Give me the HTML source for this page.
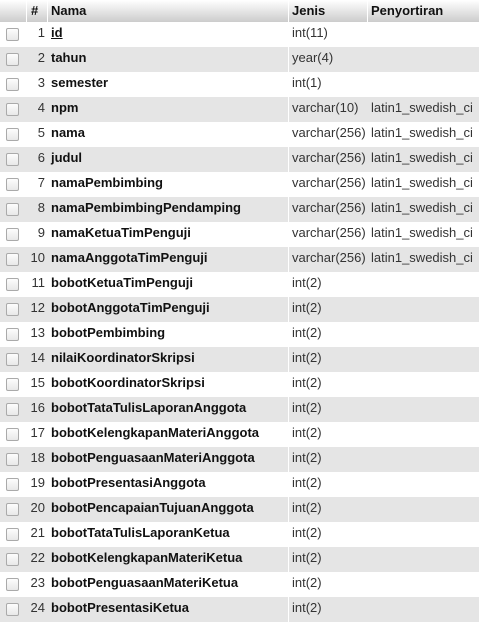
<!DOCTYPE html>
<html><head><style>
body{margin:0;width:479px;height:619px;overflow:hidden;background:#fff;font-family:"Liberation Sans",Arial,sans-serif;font-size:13px;color:#222;position:relative}
.hd{position:absolute;left:0;top:0;width:479px;height:22px;background:linear-gradient(#fff,#ccc);font-weight:bold;color:#111;line-height:22px}
.r{position:absolute;left:0;width:479px;height:25px;line-height:22px}
.g{background:#e5e5e5}
.c{position:absolute;top:0;height:100%;white-space:nowrap}
.sep{position:absolute;top:0;width:1px;height:100%;background:#fff}
.box{position:absolute;left:6px;top:6px;width:11px;height:11px;border:1px solid #aaa;border-radius:2px;background:linear-gradient(#fdfdfd,#e8e8e8)}
.n{right:434px;text-align:right;color:#333}
.nm{left:51px;font-weight:bold;color:#111}
.j{left:292px;color:#333}
.s{left:371px;color:#333}
</style></head><body>
<div class="hd"><span class="c" style="left:31px">#</span><span class="c" style="left:51px">Nama</span><span class="c" style="left:292px">Jenis</span><span class="c" style="left:371px">Penyortiran</span>
<div class="sep" style="left:26px"></div><div class="sep" style="left:47px"></div><div class="sep" style="left:288px"></div><div class="sep" style="left:367px"></div></div>
<div id="rows"></div>
<div class="r" style="top:22px"><span class="box"></span><span class="c n">1</span><span class="c nm"><u>id</u></span><span class="c j">int(11)</span></div>
<div class="r g" style="top:47px"><span class="box"></span><span class="c n">2</span><span class="c nm">tahun</span><div class="sep" style="left:288px"></div><span class="c j">year(4)</span></div>
<div class="r" style="top:72px"><span class="box"></span><span class="c n">3</span><span class="c nm">semester</span><span class="c j">int(1)</span></div>
<div class="r g" style="top:97px"><span class="box"></span><span class="c n">4</span><span class="c nm">npm</span><div class="sep" style="left:288px"></div><span class="c j">varchar(10)</span><span class="c s">latin1_swedish_ci</span></div>
<div class="r" style="top:122px"><span class="box"></span><span class="c n">5</span><span class="c nm">nama</span><span class="c j">varchar(256)</span><span class="c s">latin1_swedish_ci</span></div>
<div class="r g" style="top:147px"><span class="box"></span><span class="c n">6</span><span class="c nm">judul</span><div class="sep" style="left:288px"></div><span class="c j">varchar(256)</span><span class="c s">latin1_swedish_ci</span></div>
<div class="r" style="top:172px"><span class="box"></span><span class="c n">7</span><span class="c nm">namaPembimbing</span><span class="c j">varchar(256)</span><span class="c s">latin1_swedish_ci</span></div>
<div class="r g" style="top:197px"><span class="box"></span><span class="c n">8</span><span class="c nm">namaPembimbingPendamping</span><div class="sep" style="left:288px"></div><span class="c j">varchar(256)</span><span class="c s">latin1_swedish_ci</span></div>
<div class="r" style="top:222px"><span class="box"></span><span class="c n">9</span><span class="c nm">namaKetuaTimPenguji</span><span class="c j">varchar(256)</span><span class="c s">latin1_swedish_ci</span></div>
<div class="r g" style="top:247px"><span class="box"></span><span class="c n">10</span><span class="c nm">namaAnggotaTimPenguji</span><div class="sep" style="left:288px"></div><span class="c j">varchar(256)</span><span class="c s">latin1_swedish_ci</span></div>
<div class="r" style="top:272px"><span class="box"></span><span class="c n">11</span><span class="c nm">bobotKetuaTimPenguji</span><span class="c j">int(2)</span></div>
<div class="r g" style="top:297px"><span class="box"></span><span class="c n">12</span><span class="c nm">bobotAnggotaTimPenguji</span><div class="sep" style="left:288px"></div><span class="c j">int(2)</span></div>
<div class="r" style="top:322px"><span class="box"></span><span class="c n">13</span><span class="c nm">bobotPembimbing</span><span class="c j">int(2)</span></div>
<div class="r g" style="top:347px"><span class="box"></span><span class="c n">14</span><span class="c nm">nilaiKoordinatorSkripsi</span><div class="sep" style="left:288px"></div><span class="c j">int(2)</span></div>
<div class="r" style="top:372px"><span class="box"></span><span class="c n">15</span><span class="c nm">bobotKoordinatorSkripsi</span><span class="c j">int(2)</span></div>
<div class="r g" style="top:397px"><span class="box"></span><span class="c n">16</span><span class="c nm">bobotTataTulisLaporanAnggota</span><div class="sep" style="left:288px"></div><span class="c j">int(2)</span></div>
<div class="r" style="top:422px"><span class="box"></span><span class="c n">17</span><span class="c nm">bobotKelengkapanMateriAnggota</span><span class="c j">int(2)</span></div>
<div class="r g" style="top:447px"><span class="box"></span><span class="c n">18</span><span class="c nm">bobotPenguasaanMateriAnggota</span><div class="sep" style="left:288px"></div><span class="c j">int(2)</span></div>
<div class="r" style="top:472px"><span class="box"></span><span class="c n">19</span><span class="c nm">bobotPresentasiAnggota</span><span class="c j">int(2)</span></div>
<div class="r g" style="top:497px"><span class="box"></span><span class="c n">20</span><span class="c nm">bobotPencapaianTujuanAnggota</span><div class="sep" style="left:288px"></div><span class="c j">int(2)</span></div>
<div class="r" style="top:522px"><span class="box"></span><span class="c n">21</span><span class="c nm">bobotTataTulisLaporanKetua</span><span class="c j">int(2)</span></div>
<div class="r g" style="top:547px"><span class="box"></span><span class="c n">22</span><span class="c nm">bobotKelengkapanMateriKetua</span><div class="sep" style="left:288px"></div><span class="c j">int(2)</span></div>
<div class="r" style="top:572px"><span class="box"></span><span class="c n">23</span><span class="c nm">bobotPenguasaanMateriKetua</span><span class="c j">int(2)</span></div>
<div class="r g" style="top:597px"><span class="box"></span><span class="c n">24</span><span class="c nm">bobotPresentasiKetua</span><div class="sep" style="left:288px"></div><span class="c j">int(2)</span></div>
</body></html>
